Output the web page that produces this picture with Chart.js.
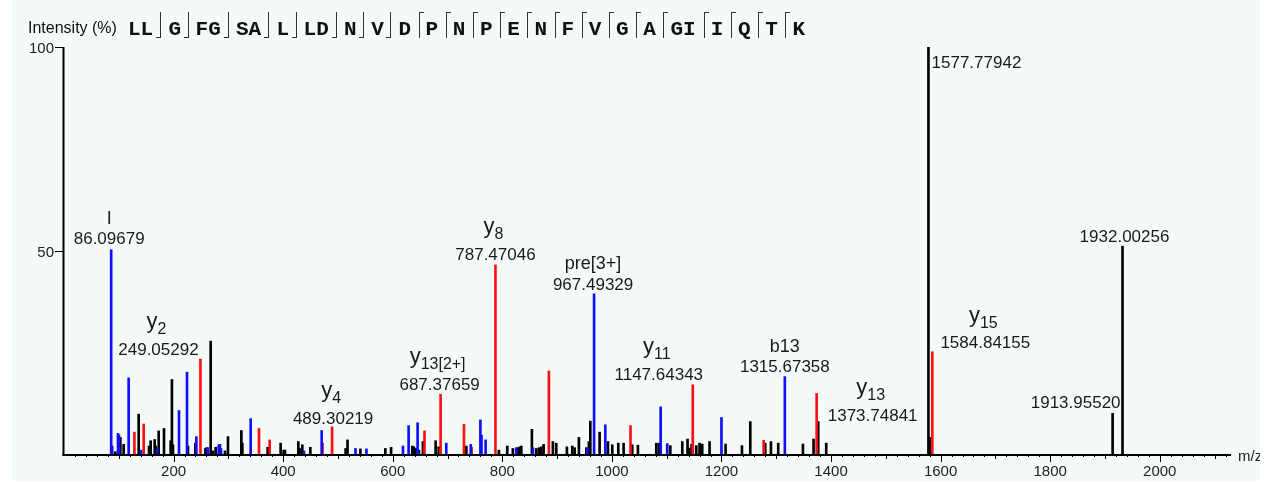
<!DOCTYPE html>
<html><head><meta charset="utf-8">
<script src="https://cdn.jsdelivr.net/npm/chart.js@4.4.1/dist/chart.umd.min.js"></script>
<style>
html,body{margin:0;padding:0;background:#fff;width:1271px;height:485px;overflow:hidden;}
#frame{position:absolute;left:12px;top:0;width:1248px;height:481px;overflow:hidden;background:#f4faf7;}
#wrap{position:absolute;left:-12px;top:0;width:1271px;height:485px;}
#c{position:absolute;left:0;top:0;}
.title{position:absolute;left:28px;top:20px;font:16px/16px "Liberation Sans",Arial,sans-serif;color:#111;white-space:nowrap;}
.res{position:absolute;top:19px;font:bold 21px/21px "Liberation Mono","Courier New",monospace;color:#111;white-space:nowrap;}
.mk{position:absolute;top:12px;height:26px;width:5px;box-sizing:border-box;}
.mk.b{border-right:1px solid #333;border-bottom:1px solid #333;}
.mk.t{border-left:1px solid #333;border-top:1px solid #333;}
</style>
</head><body>
<div id="frame"><div id="wrap">
<canvas id="c" width="1271" height="485"></canvas>
<div id="hdr"><span class="title">Intensity (%)</span></div>
</div></div>
<script>
// ---- data ----
const residueGroups = ['LL','G','FG','SA','L','LD','N','V','D','P','N','P','E','N','F','V','G','A','GI','I','Q','T','K'];
const markTypes = ['b','b','b','b','b','b','b','b','t','t','t','t','t','t','t','t','t','t','t','t','t','t'];

const xTickLabels = [200,400,600,800,1000,1200,1400,1600,1800,2000];
const yTickLabels = [50,100];

const blackMz = [93.7,102.9,108.9,136.3,155.2,158.2,165.5,167.3,172.8,182.5,194.7,197.0,198.9,226.3,239.8,258.0,260.4,267.7,272.0,276.8,293.8,299.3,323.7,325.5,371.7,395.4,400.9,403.3,427.7,430.0,435.0,449.6,514.0,517.5,541.0,586.5,597.0,635.7,638.7,641.8,647.8,655.1,678.3,683.8,734.3,793.8,809.0,819.3,828.0,831.6,834.7,854.0,862.0,866.8,871.2,875.4,892.3,898.5,917.9,927.7,932.0,939.8,953.3,958.0,960.6,977.6,992.8,1000.7,1011.7,1021.4,1037.2,1047.5,1081.0,1085.9,1106.6,1128.5,1138.1,1140.5,1145.4,1154.0,1160.0,1163.0,1164.9,1178.3,1207.5,1237.4,1252.6,1279.9,1290.3,1303.6,1348.7,1368.1,1376.6,1391.2,1577.77942,1581.1,1913.9552,1932.00256];
const blackInt = [0.8,4.3,2.6,10.0,2.2,3.5,3.8,2.2,5.9,6.5,3.5,18.5,2.5,2.2,2.9,1.6,1.8,27.9,1.0,1.9,1.0,4.5,6.0,2.9,1.9,2.9,1.2,1.2,3.3,1.6,2.5,1.9,1.6,3.7,1.5,1.6,1.9,2.2,2.0,1.6,1.2,3.3,3.5,2.0,2.2,1.2,2.2,1.6,1.8,2.0,2.2,6.3,1.6,1.8,2.0,2.6,3.3,2.9,2.0,2.2,1.8,4.3,1.8,3.3,8.3,5.6,3.3,2.5,2.9,2.9,2.5,2.4,2.9,2.9,2.3,3.3,3.9,1.7,2.6,2.3,2.9,2.7,2.6,3.3,2.7,2.3,8.2,2.9,3.3,2.9,2.7,3.9,8.2,2.9,100,4.3,10.2,51.2];

const redMz = [128.5,145.4,249.05292,355.9,375.4,472.0,489.30219,658.0,687.37659,730.0,744.0,787.47046,885.0,1034.0,1147.64343,1277.0,1373.74841,1584.84155];
const redInt = [5.6,7.6,23.5,6.5,3.7,2.9,6.9,5.9,14.9,7.5,1.9,46.6,20.6,7.2,17.2,3.6,15.1,25.3];

const blueMz = [86.09679,88.0,98.6,100.4,118.0,140.5,170.4,209.9,224.5,241.6,262.2,282.3,284.7,286.5,340.7,438.0,470.3,532.0,552.0,618.7,629.0,645.4,697.7,742.4,760.0,762.0,769.5,825.5,855.9,955.0,967.49329,988.0,1089.0,1101.0,1200.0,1315.67358];
const blueInt = [50.3,2.2,5.3,4.9,18.9,1.2,1.4,10.9,20.3,4.5,1.8,2.5,2.6,1.6,8.9,1.0,6.0,1.6,1.5,2.2,7.2,7.9,2.9,2.6,8.6,4.9,3.7,1.8,1.8,1.8,39.5,7.4,11.8,2.8,9.2,19.2];

const annMz  = [86.09679,249.05292,489.30219,687.37659,787.47046,967.49329,1147.64343,1315.67358,1373.74841,1577.77942,1584.84155,1913.95520,1932.00256];
const annIon = ['I','y2','y4','y13[2+]','y8','pre[3+]','y11','b13','y13','','y15','',''];

// ---- layout (pixel offsets of each annotation from its peak top) ----
const annLayout = [[-2,-10],[-42,-9],[1,-8],[-1,-9],[0,-10],[-1,-9],[-34,-10],[0,-9],[56,23],[48,16],[53,-8],[-37,-10],[2,-9]];

// ---- header ----
(function(){
  const hdr = document.getElementById('hdr');
  const cw = 13.2, gap = 7;
  let x = 128;
  residueGroups.forEach((g,i)=>{
    const s = document.createElement('span');
    s.className='res'; s.textContent=g; s.style.left = x+'px';
    hdr.appendChild(s);
    x += g.length*cw;
    if(i < markTypes.length){
      x += gap;
      const m = document.createElement('span');
      m.className = 'mk '+markTypes[i];
      m.style.left = (markTypes[i]==='b' ? x-5 : x) + 'px';
      hdr.appendChild(m);
      x += gap;
    }
  });
})();

const FONT = '"Liberation Sans", Arial, sans-serif';
function pts(mz, it){ return mz.map((m,i)=>({x:m,y:it[i]})); }
function findInt(m){
  const sets=[[blackMz,blackInt],[redMz,redInt],[blueMz,blueInt]];
  for(const [a,b] of sets){ const k=a.indexOf(m); if(k>=0) return b[k]; }
  return 0;
}

const axisPlugin = {
  id:'axes',
  afterDatasetsDraw(chart){
    const {ctx, scales:{x,y}} = chart;
    const x0 = Math.round(x.getPixelForValue(0));
    const y0 = Math.round(y.getPixelForValue(0));
    const yTop = y.getPixelForValue(100);
    const xEnd = x.getPixelForValue(x.max);
    ctx.save();
    ctx.strokeStyle='#000'; ctx.lineWidth=2;
    ctx.beginPath(); ctx.moveTo(x0-0.5, yTop); ctx.lineTo(x0-0.5, y0+1); ctx.stroke();
    ctx.beginPath(); ctx.moveTo(x0-1.5, y0); ctx.lineTo(xEnd, y0); ctx.stroke();
    ctx.lineWidth=1;
    ctx.fillStyle='#222'; ctx.font='15px '+FONT;
    // y ticks
    ctx.textAlign='right'; ctx.textBaseline='middle';
    yTickLabels.forEach(v=>{
      const py = Math.round(y.getPixelForValue(v))+0.5;
      ctx.beginPath(); ctx.moveTo(x0-9, py); ctx.lineTo(x0, py); ctx.stroke();
      ctx.fillText(String(v), x0-10, py+1);
    });
    // x ticks
    for(let v=20; v<=x.max; v+=20){
      const px = Math.round(x.getPixelForValue(v))+0.5;
      const len = (v%200===0)?7:((v%100===0)?4:2);
      ctx.beginPath(); ctx.moveTo(px, y0); ctx.lineTo(px, y0+len); ctx.stroke();
    }
    ctx.textAlign='center';
    xTickLabels.forEach(v=>{
      ctx.fillText(String(v), x.getPixelForValue(v), y0+17);
    });
    ctx.textAlign='left';
    ctx.fillText('m/z', xEnd+7, y0+2);
    ctx.restore();
  }
};

function drawIon(ctx, s, cx, numCy){
  const m = s.match(/^y(\d.*)$/);
  ctx.textBaseline='alphabetic';
  ctx.textAlign='left';
  if(m){
    ctx.font='22px '+FONT; const w1 = ctx.measureText('y').width;
    ctx.font='16px '+FONT; const w2 = ctx.measureText(m[1]).width;
    const left = cx - (w1+w2)/2 - 2;
    ctx.font='22px '+FONT; ctx.fillText('y', left, numCy-22);
    ctx.font='16px '+FONT; ctx.fillText(m[1], left+w1, numCy-16);
  } else {
    ctx.font='18px '+FONT; const w = ctx.measureText(s).width;
    ctx.fillText(s, cx - w/2, numCy-15.5);
  }
}

const labelPlugin = {
  id:'peakLabels',
  afterDatasetsDraw(chart){
    const {ctx, scales:{x,y}} = chart;
    ctx.save();
    ctx.fillStyle='#1a1a1a';
    annMz.forEach((m,i)=>{
      const px = x.getPixelForValue(m);
      const py = y.getPixelForValue(findInt(m));
      const [dx,dy] = annLayout[i];
      const cx = px+dx, cy = py+dy;
      ctx.font='17px '+FONT; ctx.textAlign='center'; ctx.textBaseline='middle';
      ctx.fillText(m.toFixed(5), cx, cy);
      if(annIon[i]) drawIon(ctx, annIon[i], cx, cy);
    });
    ctx.restore();
  }
};

new Chart(document.getElementById('c'), {
  type:'bar',
  data:{datasets:[
    {label:'b / other', data:pts(blueMz,blueInt), backgroundColor:'#1010ff', barThickness:2, grouped:false},
    {label:'y', data:pts(redMz,redInt), backgroundColor:'#ff1010', barThickness:2, grouped:false},
    {label:'unassigned', data:pts(blackMz,blackInt), backgroundColor:'#000000', barThickness:2, grouped:false}
  ]},
  options:{
    responsive:false, animation:false, devicePixelRatio:1,
    layout:{padding:{left:64,right:40,top:47,bottom:30}},
    plugins:{legend:{display:false}, tooltip:{enabled:false}},
    scales:{
      x:{type:'linear', min:0, max:2130, display:false, offset:false},
      y:{type:'linear', min:0, max:100, display:false}
    }
  },
  plugins:[axisPlugin, labelPlugin]
});
</script>
</body></html>
